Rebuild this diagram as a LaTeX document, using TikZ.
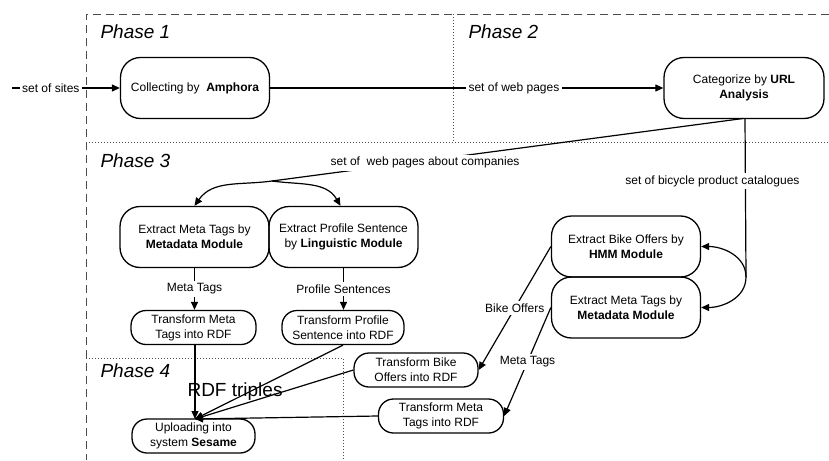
\documentclass[tikz,border=0pt]{standalone}
\usepackage{fontspec}
\setmainfont{Liberation Sans}
\usetikzlibrary{arrows.meta}
\begin{document}
\begin{tikzpicture}[x=1pt,y=1pt, font=\fontsize{12}{15}\selectfont,
 big/.style={draw, line width=1.3pt, rounded corners=20pt, minimum width=149pt, minimum height=61pt, align=center, inner sep=2pt},
 small/.style={draw, line width=1.3pt, rounded corners=15pt, minimum width=124pt, minimum height=34pt, align=center, inner sep=1pt},
 conn/.style={line width=1.2pt, -{Triangle[length=8pt,width=7pt]}},
 plain/.style={line width=1.2pt},
 lbl/.style={fill=white, inner sep=2.5pt},
 phase/.style={font=\fontsize{19}{22}\selectfont\itshape, anchor=base west},
 dashb/.style={gray!60!black, line width=0.9pt, dash pattern=on 8pt off 5pt},
 dotb/.style={gray!60!black, line width=0.9pt, dash pattern=on 1pt off 2pt}]
\useasboundingbox (0,0) rectangle (829,-460);
% phase borders
\draw[dashb] (829,-14) -- (86,-14) -- (86,-460);
\draw[dotb] (86,-142) -- (829,-142);
\draw[dotb] (453,-14) -- (453,-142);
\draw[dotb] (86,-358) -- (343,-358) -- (343,-460);
\node[phase] (ph1) at (97,-39) {Phase 1};
\node[phase] (ph2) at (465,-39) {Phase 2};
\node[phase] (ph3) at (97,-167) {Phase 3};
\node[phase] (ph4) at (97,-377) {Phase 4};
% nodes
\node[big] (amph) at (195,-88) {Collecting by\ \ \textbf{Amphora}};
\node[big, minimum width=160pt] (url) at (744,-88) {Categorize by \textbf{URL}\\\textbf{Analysis}};
\node[big] (em1) at (194.5,-237) {Extract Meta Tags by\\\textbf{Metadata Module}};
\node[big] (ep) at (343.5,-237) {Extract Profile Sentence\\by \textbf{Linguistic Module}};
\node[small, minimum width=125pt] (tm1) at (193.5,-327.5) {Transform Meta\\Tags into RDF};
\node[small, minimum width=122pt] (tp) at (343,-327.5) {Transform Profile\\Sentence into RDF};
\node[small, minimum width=123pt] (up) at (193.5,-436) {Uploading into\\system \textbf{Sesame}};
\node[small] (tb) at (416,-370) {Transform Bike\\Offers into RDF};
\node[small, minimum width=125pt] (tm2) at (441,-416) {Transform Meta\\Tags into RDF};
\node[big] (eb) at (626,-246.5) {Extract Bike Offers by\\\textbf{HMM Module}};
\node[big] (em2) at (626,-307.5) {Extract Meta Tags by\\\textbf{Metadata Module}};
% coordinates
\coordinate (s0) at (12,-88);
\coordinate (split) at (272,-181);
\coordinate (u1) at (743,-118.5);
\coordinate (u2) at (745,-118.5);
\coordinate (j) at (746,-277);
\coordinate (upin) at (195,-419);
% connectors
\draw[conn] (s0) -- node[lbl, pos=0.36] {set of sites} (amph.west);
\draw[conn] (amph.east) -- node[lbl, pos=0.62] {set of web pages} (url.west);
\draw[plain] (u1) -- node[lbl, pos=0.675, yshift=-2pt] {set of\ \ web pages about companies} (split);
\draw[conn] (split) to[out=188,in=55] (em1.north);
\draw[conn] (split) to[out=-8,in=120] ([xshift=-3pt]ep.north);
\draw[plain] (u2) -- node[lbl, pos=0.396, xshift=-33pt] {set of bicycle product catalogues} (j);
\draw[conn] (j) to[out=90,in=0] (eb.east);
\draw[conn] (j) to[out=-90,in=0] (em2.east);
\draw[conn] (em1.south) -- node[lbl] {Meta Tags} (em1.south |- tm1.north);
\draw[conn] (ep.south) -- node[lbl] {Profile Sentences} (ep.south |- tp.north);
\draw[conn] (eb.west) -- node[lbl] {Bike Offers} (tb.east);
\draw[conn] (em2.west) -- node[lbl] {Meta Tags} (tm2.east);
\draw[conn] (tm1.south -| upin) -- (upin);
\draw[conn] (tp.south) -- (upin);
\draw[conn] (tb.west) -- (upin);
\draw[conn] (tm2.west) -- (upin);
\node[font=\fontsize{19}{22}\selectfont, anchor=base west] (rdf) at (184,-396) {RDF triples};
\end{tikzpicture}
\end{document}
